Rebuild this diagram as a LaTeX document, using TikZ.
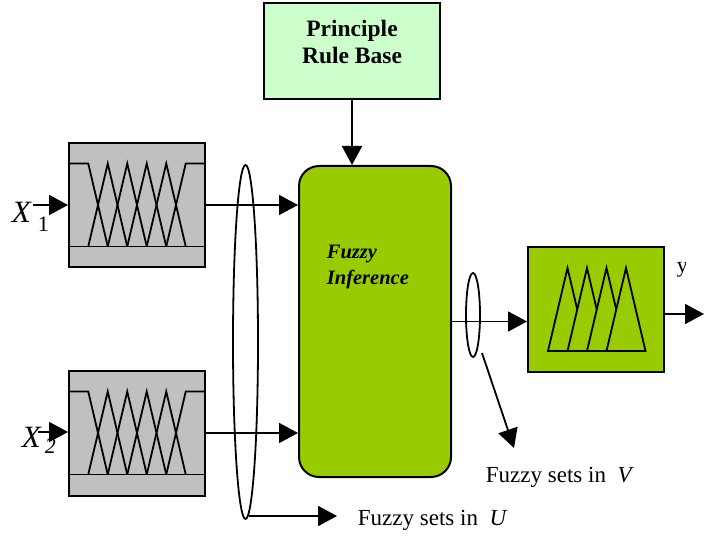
\documentclass[tikz,border=0pt]{standalone}
\usepackage{fontspec}
\setmainfont{Liberation Serif}
\usetikzlibrary{arrows.meta}
\definecolor{rulegreen}{HTML}{CCFFCC}
\definecolor{infgreen}{HTML}{99CC00}
\definecolor{fuzgray}{HTML}{C0C0C0}
\begin{document}
\begin{tikzpicture}[x=1pt,y=-1pt,line width=1.8pt,
  arr/.style={-{Triangle[length=19pt,width=20pt]}},
  box/.style={draw,line width=2pt,inner sep=0pt},
  lbl/.style={font=\fontsize{23}{23}\selectfont,inner sep=0pt},
  mfs/.pic={
    \draw[line width=1.8pt] (-68,-41.5) -- (-48.75,-41.5) -- (-29.25,41.5);
    \draw[line width=1.8pt] (68,-41.5) -- (48.75,-41.5) -- (29.25,41.5);
    \draw[line width=1.8pt] (-68,41.5) -- (68,41.5);
    \foreach \k in {0,1,2,3}{
      \draw[line width=1.8pt,line join=miter] ({-48.75+19.5*\k},41.5) -- ({-29.25+19.5*\k},-41.5) -- ({-9.75+19.5*\k},41.5);
    }
  }]
\useasboundingbox (0,0) rectangle (720,537);

% boxes
\node[box,fill=rulegreen,minimum width=176pt,minimum height=96pt] (rule) at (352,51) {};
\node[inner sep=0pt,anchor=base,font=\fontsize{23.5}{23.5}\selectfont\bfseries] (r1) at (352,37) {Principle};
\node[inner sep=0pt,anchor=base,font=\fontsize{23.5}{23.5}\selectfont\bfseries] (r2) at (352,64) {Rule Base};
\node[box,fill=infgreen,rounded corners=20pt,minimum width=152pt,minimum height=311pt] (inf) at (375,321.5) {};
\node[inner sep=0pt,anchor=base west,font=\fontsize{20.5}{20.5}\selectfont\bfseries\itshape] (t1) at (326,259) {Fuzzy};
\node[inner sep=0pt,anchor=base west,font=\fontsize{20.5}{20.5}\selectfont\bfseries\itshape] (t2) at (326,284) {Inference};

\node[box,fill=fuzgray,minimum width=136pt,minimum height=124pt] (in1) at (137,205) {};
\node[box,fill=fuzgray,minimum width=136pt,minimum height=125pt] (in2) at (137,433) {};
\pic at (in1.center) {mfs};
\pic at (in2.center) {mfs};

\node[box,fill=infgreen,minimum width=136pt,minimum height=125pt] (out) at (596,309.5) {};
\foreach \i in {0,1,2,3}{
  \draw[fill=infgreen,line width=1.8pt,line join=miter] ({548+19.5*\i},351) -- ({567.5+19.5*\i},268) -- ({587+19.5*\i},351) -- cycle;
}

% ellipses
\draw (245.5,342) ellipse [x radius=12.5, y radius=177];
\draw (473,315) ellipse [x radius=7, y radius=42];
\coordinate (eus) at (249,516);
\coordinate (evs) at (482,353);

% arrows
\draw[arr] (rule.south) -- (rule.south |- inf.north);
\draw[arr] (in1.east) -- (in1.east -| inf.west);
\draw[arr] (in2.east) -- (in2.east -| inf.west);
\draw[arr] (inf.east) -- (inf.east -| out.west);
\coordinate (x1s) at (33,205);
\coordinate (x2s) at (38,432);
\draw[arr] (x1s) -- (x1s -| in1.west);
\draw[arr] (x2s) -- (x2s -| in2.west);
\coordinate (ye) at (704,314);
\draw[arr] (out.east |- ye) -- (ye);

\coordinate (fue) at (337,516);
\coordinate (fve) at (514,448);
\node[lbl,anchor=base west] (fu) at (357,525) {Fuzzy sets in \ \textit{U}};
\node[lbl,anchor=base west] (fv) at (485,482) {Fuzzy sets in \ \textit{V}};
\draw[arr] (eus) -- (fue);
\draw[arr] (evs) -- (fve);

\node[inner sep=0pt,anchor=base west,font=\fontsize{31}{31}\selectfont\itshape] (x1) at (11,223) {X};
\node[inner sep=0pt,anchor=base west,font=\fontsize{22}{22}\selectfont] (x1s1) at (37,232) {1};
\node[inner sep=0pt,anchor=base west,font=\fontsize{31}{31}\selectfont\itshape] (x2) at (21,447) {X};
\node[inner sep=0pt,anchor=base west,font=\fontsize{22}{22}\selectfont\itshape] (x2s2) at (44,453) {2};

\begin{scope}
\clip (660,250) rectangle (685,290);
\node[inner sep=0pt,anchor=base west,font=\fontsize{22}{22}\selectfont] (y) at (676,273) {y};
\end{scope}
\end{tikzpicture}
\end{document}
